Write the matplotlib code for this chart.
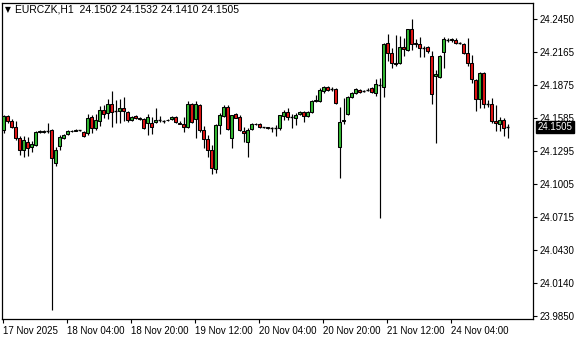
import matplotlib
matplotlib.use("Agg")
import matplotlib.pyplot as plt

symbol = "EURCZK,H1"

opens = [24.1479, 24.1601, 24.1557, 24.1505, 24.1409, 24.1304, 24.1374, 24.1330, 24.1347, 24.1461,
         24.1461, 24.1466, 24.1479, 24.1190, 24.1339, 24.1409, 24.1444, 24.1470, 24.1470, 24.1479,
         24.1461, 24.1452, 24.1592, 24.1496, 24.1557, 24.1654, 24.1627, 24.1706, 24.1645, 24.1645,
         24.1671, 24.1636, 24.1566, 24.1601, 24.1584, 24.1575, 24.1540, 24.1540, 24.1549, 24.1566,
         24.1557, 24.1562, 24.1575, 24.1592, 24.1544, 24.1531, 24.1505, 24.1706, 24.1575, 24.1697,
         24.1479, 24.1400, 24.1304, 24.1137, 24.1522, 24.1601, 24.1680, 24.1409, 24.1619, 24.1592,
         24.1470, 24.1374, 24.1487, 24.1531, 24.1531, 24.1505, 24.1505, 24.1496, 24.1496, 24.1496,
         24.1601, 24.1636, 24.1592, 24.1584, 24.1619, 24.1636, 24.1601, 24.1636, 24.1732, 24.1732,
         24.1820, 24.1855, 24.1837, 24.1837, 24.1330, 24.1557, 24.1619, 24.1767, 24.1802, 24.1829,
         24.1820, 24.1833, 24.1846, 24.1802, 24.1872, 24.1855, 24.2240, 24.2152, 24.2065, 24.2065,
         24.2205, 24.2179, 24.2362, 24.2240, 24.2231, 24.2196, 24.2205, 24.2126, 24.1951, 24.1942,
         24.2161, 24.2266, 24.2270, 24.2266, 24.2240, 24.2231, 24.2152, 24.2065, 24.1916, 24.1750,
         24.1977, 24.1706, 24.1706, 24.1557, 24.1531, 24.1566, 24.1502]
highs = [24.1610, 24.1610, 24.1575, 24.1557, 24.1426, 24.1426, 24.1417, 24.1382, 24.1470, 24.1479,
         24.1479, 24.1540, 24.1487, 24.1330, 24.1435, 24.1444, 24.1479, 24.1479, 24.1487, 24.1483,
         24.1470, 24.1619, 24.1610, 24.1619, 24.1689, 24.1697, 24.1750, 24.1820, 24.1741, 24.1750,
         24.1767, 24.1645, 24.1601, 24.1610, 24.1592, 24.1584, 24.1619, 24.1592, 24.1671, 24.1601,
         24.1566, 24.1575, 24.1601, 24.1601, 24.1557, 24.1592, 24.1732, 24.1715, 24.1732, 24.1706,
         24.1514, 24.1435, 24.1347, 24.1531, 24.1627, 24.1697, 24.1697, 24.1610, 24.1627, 24.1610,
         24.1505, 24.1496, 24.1540, 24.1540, 24.1540, 24.1509, 24.1509, 24.1505, 24.1522, 24.1610,
         24.1654, 24.1671, 24.1619, 24.1627, 24.1645, 24.1645, 24.1645, 24.1741, 24.1785, 24.1846,
         24.1864, 24.1864, 24.1855, 24.1846, 24.1680, 24.1759, 24.1776, 24.1811, 24.1846, 24.1837,
         24.1829, 24.1846, 24.1855, 24.1925, 24.1934, 24.2240, 24.2319, 24.2196, 24.2310, 24.2301,
         24.2284, 24.2362, 24.2450, 24.2275, 24.2292, 24.2214, 24.2214, 24.2170, 24.2004, 24.2135,
         24.2292, 24.2284, 24.2284, 24.2284, 24.2249, 24.2240, 24.2284, 24.2135, 24.1925, 24.1986,
         24.1986, 24.1741, 24.1759, 24.1697, 24.1592, 24.1584, 24.1532]
lows = [24.1452, 24.1540, 24.1496, 24.1391, 24.1260, 24.1242, 24.1251, 24.1286, 24.1339, 24.1452,
        24.1452, 24.1452, 23.9904, 24.1164, 24.1304, 24.1400, 24.1435, 24.1461, 24.1466, 24.1474,
        24.1417, 24.1435, 24.1452, 24.1479, 24.1514, 24.1584, 24.1575, 24.1505, 24.1540, 24.1540,
        24.1557, 24.1549, 24.1557, 24.1575, 24.1570, 24.1487, 24.1435, 24.1444, 24.1540, 24.1549,
        24.1544, 24.1557, 24.1566, 24.1540, 24.1527, 24.1461, 24.1496, 24.1540, 24.1409, 24.1461,
        24.1321, 24.1242, 24.1094, 24.1102, 24.1444, 24.1592, 24.1479, 24.1321, 24.1584, 24.1470,
        24.1374, 24.1242, 24.1479, 24.1522, 24.1496, 24.1496, 24.1487, 24.1461, 24.1426, 24.1479,
        24.1566, 24.1566, 24.1496, 24.1522, 24.1610, 24.1549, 24.1592, 24.1627, 24.1724, 24.1724,
        24.1802, 24.1820, 24.1820, 24.1706, 24.1058, 24.1531, 24.1610, 24.1759, 24.1794, 24.1802,
        24.1811, 24.1820, 24.1802, 24.1776, 24.0709, 24.1767, 24.2082, 24.2021, 24.2039, 24.2056,
        24.2126, 24.2170, 24.2179, 24.2205, 24.2117, 24.2117, 24.2152, 24.1706, 24.1365, 24.1934,
        24.2021, 24.2249, 24.2249, 24.2231, 24.2231, 24.2144, 24.2039, 24.1890, 24.1645, 24.1671,
        24.1671, 24.1680, 24.1540, 24.1470, 24.1470, 24.1426, 24.1410]
closes = [24.1601, 24.1557, 24.1505, 24.1409, 24.1304, 24.1391, 24.1321, 24.1356, 24.1461, 24.1470,
          24.1470, 24.1470, 24.1234, 24.1304, 24.1417, 24.1435, 24.1470, 24.1474, 24.1483, 24.1478,
          24.1426, 24.1584, 24.1496, 24.1566, 24.1654, 24.1619, 24.1706, 24.1636, 24.1642, 24.1671,
          24.1645, 24.1566, 24.1592, 24.1584, 24.1575, 24.1496, 24.1592, 24.1505, 24.1566, 24.1563,
          24.1553, 24.1570, 24.1592, 24.1549, 24.1535, 24.1505, 24.1706, 24.1549, 24.1706, 24.1479,
          24.1400, 24.1304, 24.1146, 24.1522, 24.1610, 24.1680, 24.1487, 24.1610, 24.1586, 24.1479,
          24.1452, 24.1479, 24.1531, 24.1535, 24.1505, 24.1503, 24.1496, 24.1492, 24.1494, 24.1610,
          24.1636, 24.1592, 24.1590, 24.1610, 24.1636, 24.1601, 24.1636, 24.1732, 24.1737, 24.1829,
          24.1855, 24.1829, 24.1835, 24.1715, 24.1549, 24.1562, 24.1767, 24.1802, 24.1837, 24.1811,
          24.1818, 24.1831, 24.1811, 24.1881, 24.1868, 24.2231, 24.2152, 24.2065, 24.2060, 24.2205,
          24.2187, 24.2362, 24.2231, 24.2235, 24.2196, 24.2192, 24.2170, 24.1794, 24.1969, 24.2126,
          24.2275, 24.2270, 24.2275, 24.2240, 24.2238, 24.2152, 24.2065, 24.1925, 24.1750, 24.1977,
          24.1706, 24.1710, 24.1557, 24.1540, 24.1566, 24.1496, 24.1505]

price_ticks = [24.2450, 24.2165, 24.1875, 24.1585, 24.1295, 24.1005, 24.0715, 24.0430, 24.0140, 23.9850]
price_labels = ["24.2450", "24.2165", "24.1875", "24.1585", "24.1295", "24.1005", "24.0715", "24.0430", "24.0140", "23.9850"]
time_tick_bars = [0, 16, 32, 48, 64, 80, 96, 112]
time_labels = ["17 Nov 2025", "18 Nov 04:00", "18 Nov 20:00", "19 Nov 12:00",
               "20 Nov 04:00", "20 Nov 20:00", "21 Nov 12:00", "24 Nov 04:00"]

UP = "#32B832"
DOWN = "#E01414"
FONT = ["Liberation Sans", "DejaVu Sans"]
plt.rcParams["font.family"] = FONT

W, H = 580, 340
fig = plt.figure(figsize=(W / 100, H / 100), dpi=100)
L, R, T, B = 2, 533, 3, 319
ax = fig.add_axes([L / W, 1 - B / H, (R - L) / W, (B - T) / H])

n = len(opens)
xs = list(range(n))
ax.vlines(xs, lows, highs, color="black", linewidth=0.85, zorder=2)
for i in xs:
    o, c = opens[i], closes[i]
    if abs(c - o) < 0.0004:
        ax.hlines((o + c) / 2, i - 0.4, i + 0.4, color="black", linewidth=1.0, zorder=3)
    else:
        ax.bar(i, abs(c - o), bottom=min(o, c), width=0.7,
               color=UP if c > o else DOWN, edgecolor="black", linewidth=0.75, zorder=3)

ax.set_xlim((L - 3.5) / 4, (R - 3.5) / 4)
ax.set_ylim(23.9825, 24.2590)

for s in ax.spines.values():
    s.set_color("black")
    s.set_linewidth(0.9)

ax.yaxis.tick_right()
ax.set_yticks(price_ticks)
ax.set_yticklabels(price_labels)
ax.tick_params(axis="y", direction="out", length=3, width=0.8, pad=2, labelsize=7, colors="black")
ax.set_xticks([b - 0.15 for b in time_tick_bars])
ax.set_xticklabels(time_labels, ha="left")
ax.tick_params(axis="x", direction="out", length=3, width=0.8, pad=2, labelsize=7, colors="black")

# title
ax.text(0.006, 0.978, "\u25BC", transform=ax.transAxes, fontsize=5.5, va="center", ha="left",
        family=["DejaVu Sans"])
ax.text(0.024, 0.978, f"{symbol}  {opens[-1]:.4f} {highs[-1]:.4f} {lows[-1]:.4f} {closes[-1]:.4f}",
        transform=ax.transAxes, fontsize=7.5, va="center", ha="left")

# current price box
ax.text(1.008, closes[-1], f"{closes[-1]:.4f}", transform=ax.get_yaxis_transform(),
        fontsize=7, color="white", va="center", ha="left",
        bbox=dict(boxstyle="square,pad=0.15", facecolor="black", edgecolor="black"))

fig.savefig("out.png", dpi=100)
